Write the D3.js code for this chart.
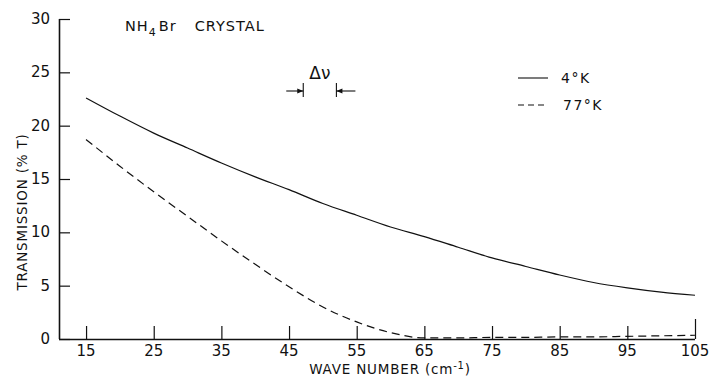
<!DOCTYPE html>
<html>
<head>
<meta charset="utf-8">
<script src="https://cdn.jsdelivr.net/npm/d3@7"></script>
<style>
  body { margin: 0; background: #fff; }
  svg text { font-family: "DejaVu Sans", "Liberation Sans", sans-serif; fill: #111; }
</style>
</head>
<body>
<script>
// wave number (cm-1)
const waveNumbers = [15, 20, 25, 30, 35, 40, 45, 50, 55, 60, 65, 70, 75, 80, 85, 90, 95, 100, 105];
// transmission %T at 4 K
const trans4K = [22.6, 20.9, 19.3, 17.9, 16.5, 15.2, 14.0, 12.7, 11.6, 10.5, 9.6, 8.6, 7.6, 6.8, 6.0, 5.3, 4.8, 4.4, 4.1];
// transmission %T at 77 K
const trans77K = [18.7, 16.2, 13.8, 11.5, 9.2, 7.0, 4.9, 3.0, 1.6, 0.6, 0.1, 0.1, 0.15, 0.15, 0.2, 0.2, 0.25, 0.3, 0.35];

const xTicks = [15, 25, 35, 45, 55, 65, 75, 85, 95, 105];
const yTicks = [0, 5, 10, 15, 20, 25, 30];
const legendLabels = ["4\u00b0K", "77\u00b0K"];

const W = 715, H = 379;
const svg = d3.select("body").append("svg")
  .attr("width", W)
  .attr("height", H);

const x = d3.scaleLinear().domain([11, 105]).range([59, 695]);
const y = d3.scaleLinear().domain([0, 30]).range([339, 19]);

const ink = "#111";

// y axis, ticks point inward
const yAxis = svg.append("g")
  .attr("transform", "translate(59,0)")
  .call(d3.axisRight(y).tickValues(yTicks).tickSize(11).tickFormat(""));
yAxis.select(".domain").attr("d", `M0.5,${y(0)}V${y(30)}`).attr("stroke", ink).attr("stroke-width", 1.6);
yAxis.selectAll(".tick line").attr("stroke", ink).attr("stroke-width", 1.2);

svg.append("g").selectAll("text")
  .data(yTicks)
  .join("text")
  .attr("x", 50)
  .attr("y", d => y(d) + 5)
  .attr("text-anchor", "end")
  .attr("font-size", 15)
  .text(d => d);

// x axis, ticks point up
const xAxis = svg.append("g")
  .attr("transform", "translate(0,339)")
  .call(d3.axisTop(x).tickValues(xTicks).tickSize(13).tickFormat(""));
xAxis.select(".domain").attr("d", `M59,0.5H${x(105)}`).attr("stroke", ink).attr("stroke-width", 1.6);
xAxis.selectAll(".tick line").attr("stroke", ink).attr("stroke-width", 1.2)
  .attr("y2", d => d === 105 ? -20 : -13);

svg.append("g").selectAll("text")
  .data(xTicks)
  .join("text")
  .attr("x", d => x(d))
  .attr("y", 356)
  .attr("text-anchor", "middle")
  .attr("font-size", 15)
  .text(d => d);

// axis titles
const xt = svg.append("text")
  .attr("x", 390)
  .attr("y", 374)
  .attr("text-anchor", "middle")
  .attr("font-size", 13.5)
  .attr("letter-spacing", 0.8)
  .text("WAVE NUMBER (cm");
xt.append("tspan").attr("dy", -5).attr("font-size", 10).text("-1");
xt.append("tspan").attr("dy", 5).text(")");

svg.append("text")
  .attr("transform", "translate(27,212) rotate(-90)")
  .attr("text-anchor", "middle")
  .attr("font-size", 13.5)
  .attr("letter-spacing", 0.8)
  .text("TRANSMISSION  (% T)");

// title
const title = svg.append("text")
  .attr("x", 125)
  .attr("y", 31)
  .attr("font-size", 14.5)
  .attr("letter-spacing", 1)
  .text("NH");
title.append("tspan").attr("dy", 5).attr("font-size", 11).text("4");
title.append("tspan").attr("dy", -5).attr("dx", 2).text("Br");
title.append("tspan").attr("dx", 18).text("CRYSTAL");

// curves
const line = d3.line()
  .x((d, i) => x(waveNumbers[i]))
  .y(d => y(d))
  .curve(d3.curveMonotoneX);

svg.append("path")
  .datum(trans4K)
  .attr("fill", "none")
  .attr("stroke", ink)
  .attr("stroke-width", 1.2)
  .attr("d", line);

svg.append("path")
  .datum(trans77K)
  .attr("fill", "none")
  .attr("stroke", ink)
  .attr("stroke-width", 1.2)
  .attr("stroke-dasharray", "8,5")
  .attr("d", line);

// legend
const legend = svg.append("g");
legendLabels.forEach((lab, i) => {
  const ly = 78 + i * 27;
  legend.append("line")
    .attr("x1", 518).attr("x2", 548)
    .attr("y1", ly).attr("y2", ly)
    .attr("stroke", ink)
    .attr("stroke-width", 1.1)
    .attr("stroke-dasharray", i ? "6,4" : null);
  legend.append("text")
    .attr("x", 561 + i * 2)
    .attr("y", ly + 5)
    .attr("font-size", 14)
    .attr("letter-spacing", 1.5)
    .text(lab);
});

// delta nu resolution marker
const dn = svg.append("g").attr("stroke", ink).attr("stroke-width", 1.1);
const bx1 = x(47.1), bx2 = x(52.0), by = 91;
dn.append("line").attr("x1", bx1).attr("x2", bx1).attr("y1", by - 8).attr("y2", by + 6);
dn.append("line").attr("x1", bx2).attr("x2", bx2).attr("y1", by - 8).attr("y2", by + 6);
dn.append("line").attr("x1", bx1 - 17).attr("x2", bx1).attr("y1", by).attr("y2", by);
dn.append("line").attr("x1", bx2).attr("x2", bx2 + 19).attr("y1", by).attr("y2", by);
dn.append("path").attr("stroke", "none").attr("fill", ink)
  .attr("d", `M${bx1},${by}l-6,-2.5v5z M${bx2},${by}l6,-2.5v5z`);
svg.append("text")
  .attr("x", (bx1 + bx2) / 2)
  .attr("y", 79)
  .attr("text-anchor", "middle")
  .attr("font-size", 17)
  .text("\u0394\u03bd");
</script>
</body>
</html>
